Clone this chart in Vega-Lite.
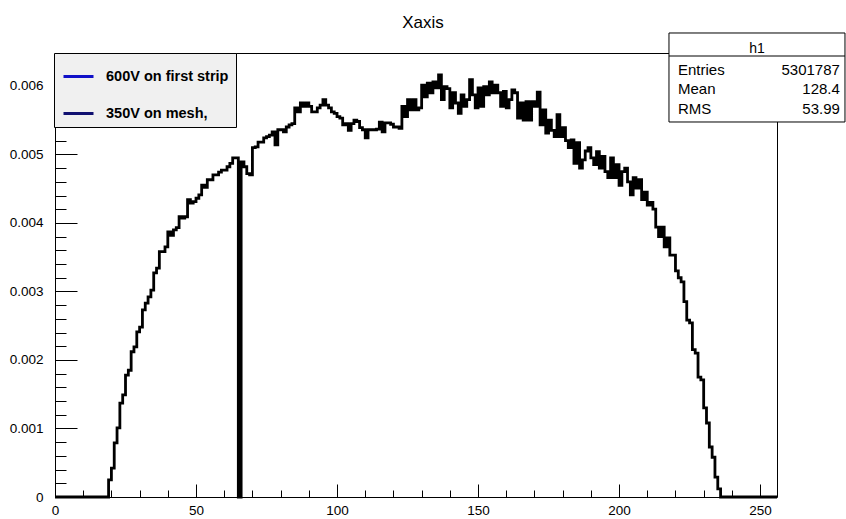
{
  "$schema": "https://vega.github.io/schema/vega-lite/v6.json",
  "width": 722,
  "height": 444,
  "autosize": "none",
  "padding": {"left": 55, "top": 53, "right": 69, "bottom": 22},
  "background": "white",
  "title": {"text": "Xaxis", "font": "Liberation Sans", "fontSize": 17, "fontWeight": "normal", "color": "black", "anchor": "middle", "offset": -12.5, "baseline": "alphabetic", "dx": 7},
  "config": {
    "font": "Liberation Sans",
    "view": {"stroke": "black", "strokeWidth": 1},
    "axis": {"domain": false, "grid": false, "labelFont": "Liberation Sans", "labelFontSize": 13.5, "labelColor": "black", "tickColor": "black", "tickWidth": 1, "title": null}
  },
  "datasets": {
    "hist": [
      {"x":0,"y":0},{"x":1,"y":0},{"x":2,"y":0},{"x":3,"y":0},{"x":4,"y":0},{"x":5,"y":0},{"x":6,"y":0},{"x":7,"y":0},{"x":8,"y":0},{"x":9,"y":0},
      {"x":10,"y":0},{"x":11,"y":0},{"x":12,"y":0},{"x":13,"y":0},{"x":14,"y":0},{"x":15,"y":0},{"x":16,"y":0},{"x":17,"y":0},{"x":18,"y":0},{"x":19,"y":0.00025},
      {"x":20,"y":0.00042},{"x":21,"y":0.00079},{"x":22,"y":0.00101},{"x":23,"y":0.00137},{"x":24,"y":0.00149},{"x":25,"y":0.00178},{"x":26,"y":0.00185},{"x":27,"y":0.00212},{"x":28,"y":0.00219},{"x":29,"y":0.00241},
      {"x":30,"y":0.00248},{"x":31,"y":0.00273},{"x":32,"y":0.00283},{"x":33,"y":0.00292},{"x":34,"y":0.00302},{"x":35,"y":0.00327},{"x":36,"y":0.00334},{"x":37,"y":0.00358},{"x":38,"y":0.00358},{"x":39,"y":0.00365},
      {"x":40,"y":0.00387},{"x":41,"y":0.00382},{"x":42,"y":0.0039},{"x":43,"y":0.00393},{"x":44,"y":0.00409},{"x":45,"y":0.00407},{"x":46,"y":0.00409},{"x":47,"y":0.00434},{"x":48,"y":0.00429},{"x":49,"y":0.00431},
      {"x":50,"y":0.00436},{"x":51,"y":0.00441},{"x":52,"y":0.00455},{"x":53,"y":0.00452},{"x":54,"y":0.00463},{"x":55,"y":0.00463},{"x":56,"y":0.0047},{"x":57,"y":0.0047},{"x":58,"y":0.00474},{"x":59,"y":0.00477},
      {"x":60,"y":0.00477},{"x":61,"y":0.00482},{"x":62,"y":0.00487},{"x":63,"y":0.00495},{"x":64,"y":0.00495},{"x":65,"y":0},{"x":66,"y":0.00489},{"x":67,"y":0.00482},{"x":68,"y":0.00472},{"x":69,"y":0.0047},
      {"x":70,"y":0.0051},{"x":71,"y":0.00511},{"x":72,"y":0.00518},{"x":73,"y":0.00518},{"x":74,"y":0.00524},{"x":75,"y":0.00526},{"x":76,"y":0.00528},{"x":77,"y":0.00533},{"x":78,"y":0.00514},{"x":79,"y":0.00536},
      {"x":80,"y":0.00536},{"x":81,"y":0.00533},{"x":82,"y":0.0054},{"x":83,"y":0.00543},{"x":84,"y":0.00545},{"x":85,"y":0.00568},{"x":86,"y":0.00562},{"x":87,"y":0.00575},{"x":88,"y":0.0057},{"x":89,"y":0.00575},
      {"x":90,"y":0.0057},{"x":91,"y":0.00562},{"x":92,"y":0.00562},{"x":93,"y":0.00568},{"x":94,"y":0.00572},{"x":95,"y":0.0058},{"x":96,"y":0.00572},{"x":97,"y":0.00568},{"x":98,"y":0.00562},{"x":99,"y":0.0056},
      {"x":100,"y":0.00555},{"x":101,"y":0.00553},{"x":102,"y":0.00543},{"x":103,"y":0.00545},{"x":104,"y":0.00535},{"x":105,"y":0.00545},{"x":106,"y":0.0055},{"x":107,"y":0.00548},{"x":108,"y":0.00539},{"x":109,"y":0.00536},
      {"x":110,"y":0.00524},{"x":111,"y":0.00536},{"x":112,"y":0.00536},{"x":113,"y":0.00536},{"x":114,"y":0.00537},{"x":115,"y":0.00547},{"x":116,"y":0.00533},{"x":117,"y":0.00546},{"x":118,"y":0.00546},{"x":119,"y":0.00544},
      {"x":120,"y":0.0054},{"x":121,"y":0.0054},{"x":122,"y":0.00538},{"x":123,"y":0.0057},{"x":124,"y":0.00555},{"x":125,"y":0.0058},{"x":126,"y":0.00565},{"x":127,"y":0.0058},{"x":128,"y":0.00565},{"x":129,"y":0.00568},
      {"x":130,"y":0.00601},{"x":131,"y":0.00584},{"x":132,"y":0.00604},{"x":133,"y":0.0059},{"x":134,"y":0.00606},{"x":135,"y":0.00597},{"x":136,"y":0.00616},{"x":137,"y":0.0058},{"x":138,"y":0.00599},{"x":139,"y":0.00596},
      {"x":140,"y":0.00568},{"x":141,"y":0.0059},{"x":142,"y":0.00575},{"x":143,"y":0.0056},{"x":144,"y":0.00587},{"x":145,"y":0.0057},{"x":146,"y":0.0058},{"x":147,"y":0.00609},{"x":148,"y":0.00587},{"x":149,"y":0.00568},
      {"x":150,"y":0.00597},{"x":151,"y":0.0057},{"x":152,"y":0.00599},{"x":153,"y":0.00587},{"x":154,"y":0.00606},{"x":155,"y":0.0059},{"x":156,"y":0.00601},{"x":157,"y":0.0059},{"x":158,"y":0.0057},{"x":159,"y":0.00592},
      {"x":160,"y":0.00568},{"x":161,"y":0.0058},{"x":162,"y":0.00594},{"x":163,"y":0.0059},{"x":164,"y":0.00553},{"x":165,"y":0.00575},{"x":166,"y":0.0055},{"x":167,"y":0.00577},{"x":168,"y":0.0055},{"x":169,"y":0.00577},
      {"x":170,"y":0.0057},{"x":171,"y":0.00591},{"x":172,"y":0.00543},{"x":173,"y":0.00565},{"x":174,"y":0.00531},{"x":175,"y":0.0055},{"x":176,"y":0.00535},{"x":177,"y":0.00526},{"x":178,"y":0.00558},{"x":179,"y":0.00526},
      {"x":180,"y":0.00539},{"x":181,"y":0.0052},{"x":182,"y":0.0051},{"x":183,"y":0.00521},{"x":184,"y":0.00487},{"x":185,"y":0.00517},{"x":186,"y":0.0048},{"x":187,"y":0.00492},{"x":188,"y":0.00505},{"x":189,"y":0.0051},
      {"x":190,"y":0.00495},{"x":191,"y":0.00485},{"x":192,"y":0.00504},{"x":193,"y":0.0048},{"x":194,"y":0.00497},{"x":195,"y":0.00475},{"x":196,"y":0.00466},{"x":197,"y":0.00495},{"x":198,"y":0.00466},{"x":199,"y":0.00485},
      {"x":200,"y":0.00455},{"x":201,"y":0.00475},{"x":202,"y":0.0048},{"x":203,"y":0.0046},{"x":204,"y":0.00441},{"x":205,"y":0.00466},{"x":206,"y":0.00451},{"x":207,"y":0.00463},{"x":208,"y":0.00434},{"x":209,"y":0.00445},
      {"x":210,"y":0.00426},{"x":211,"y":0.0043},{"x":212,"y":0.0042},{"x":213,"y":0.00394},{"x":214,"y":0.0038},{"x":215,"y":0.00394},{"x":216,"y":0.00365},{"x":217,"y":0.00378},{"x":218,"y":0.00353},{"x":219,"y":0.00353},
      {"x":220,"y":0.0033},{"x":221,"y":0.0032},{"x":222,"y":0.00314},{"x":223,"y":0.00285},{"x":224,"y":0.00258},{"x":225,"y":0.00254},{"x":226,"y":0.00215},{"x":227,"y":0.0021},{"x":228,"y":0.00175},{"x":229,"y":0.00171},
      {"x":230,"y":0.0013},{"x":231,"y":0.00108},{"x":232,"y":0.00073},{"x":233,"y":0.00058},{"x":234,"y":0.00029},{"x":235,"y":0.00012},{"x":236,"y":0},{"x":237,"y":0},{"x":238,"y":0},{"x":239,"y":0},
      {"x":240,"y":0},{"x":241,"y":0},{"x":242,"y":0},{"x":243,"y":0},{"x":244,"y":0},{"x":245,"y":0},{"x":246,"y":0},{"x":247,"y":0},{"x":248,"y":0},{"x":249,"y":0},
      {"x":250,"y":0},{"x":251,"y":0},{"x":252,"y":0},{"x":253,"y":0},{"x":254,"y":0},{"x":255,"y":0},{"x":256,"y":0}
    ],
    "legend": [{"label": "600V on first strip"}, {"label": "350V on mesh,"}],
    "stats": [{"title": "h1", "names": ["Entries", "Mean", "RMS"], "vals": ["5301787", "128.4", "53.99"]}]
  },
  "resolve": {"axis": {"x": "independent", "y": "independent"}},
  "layer": [
    {
      "data": {"name": "hist"},
      "mark": {"type": "line", "interpolate": "step-after", "color": "black", "strokeWidth": 2.8},
      "encoding": {
        "x": {"field": "x", "type": "quantitative", "scale": {"domain": [0, 256], "nice": false, "zero": false},
              "axis": {"orient": "bottom", "values": [0, 50, 100, 150, 200, 250], "tickSize": -13, "labelPadding": 19, "format": "d", "labelFlush": false, "labelOverlap": false}},
        "y": {"field": "y", "type": "quantitative", "scale": {"domain": [0, 0.00648], "nice": false, "zero": false},
              "axis": {"orient": "left", "values": [0, 0.001, 0.002, 0.003, 0.004, 0.005, 0.006], "tickSize": -22, "labelPadding": 34, "format": "~g", "labelFlush": false, "labelOverlap": false}}
      }
    },
    {
      "data": {"name": "legend"},
      "mark": {"type": "rule", "strokeWidth": 3},
      "encoding": {
        "x": {"datum": 0, "axis": {"orient": "bottom", "values": [10, 20, 30, 40, 60, 70, 80, 90, 110, 120, 130, 140, 160, 170, 180, 190, 210, 220, 230, 240], "tickSize": -7, "labels": false}},
        "x2": {"datum": 0},
        "y": {"datum": 0, "axis": {"orient": "left", "values": [0.0002, 0.0004, 0.0006, 0.0008, 0.0012, 0.0014, 0.0016, 0.0018, 0.0022, 0.0024, 0.0026, 0.0028, 0.0032, 0.0034, 0.0036, 0.0038, 0.0042, 0.0044, 0.0046, 0.0048, 0.0052, 0.0054, 0.0056, 0.0058, 0.0062, 0.0064], "tickSize": -11, "labels": false}},
        "color": {"field": "label", "type": "nominal",
                  "scale": {"domain": ["600V on first strip", "350V on mesh,"], "range": ["#1010c8", "#101070"]},
                  "legend": {"title": null, "orient": "none", "legendX": -1, "legendY": 0, "symbolType": "stroke", "symbolSize": 900, "symbolStrokeWidth": 3, "symbolOffset": 1,
                             "labelFont": "Liberation Sans", "labelFontSize": 14.5, "labelFontWeight": "bold", "labelColor": "black", "labelOffset": 11,
                             "fillColor": "#f0f0f0", "strokeColor": "black", "padding": 7, "rowPadding": 14}}
      }
    },
    {
      "data": {"name": "stats"},
      "mark": {"type": "rect", "fill": "white", "stroke": "black", "strokeWidth": 1},
      "encoding": {
        "x": {"datum": 217.7, "axis": null}, "x2": {"datum": 280.1},
        "y": {"datum": 0.006772, "axis": null}, "y2": {"datum": 0.005473}
      }
    },
    {
      "data": {"name": "stats"},
      "mark": {"type": "rule", "stroke": "black", "strokeWidth": 1},
      "encoding": {
        "x": {"datum": 217.7, "axis": null}, "x2": {"datum": 280.1},
        "y": {"datum": 0.006436, "axis": null}
      }
    },
    {
      "data": {"name": "stats"},
      "mark": {"type": "text", "font": "Liberation Sans", "fontSize": 14, "align": "center", "baseline": "alphabetic", "color": "black"},
      "encoding": {
        "x": {"datum": 248.9, "axis": null},
        "y": {"datum": 0.00648, "axis": null},
        "text": {"field": "title", "type": "nominal"}
      }
    },
    {
      "data": {"name": "stats"},
      "mark": {"type": "text", "font": "Liberation Sans", "fontSize": 15, "align": "left", "baseline": "alphabetic", "lineHeight": 19.5, "color": "black"},
      "encoding": {
        "x": {"datum": 220.9, "axis": null},
        "y": {"datum": 0.006159, "axis": null},
        "text": {"field": "names", "type": "nominal"}
      }
    },
    {
      "data": {"name": "stats"},
      "mark": {"type": "text", "font": "Liberation Sans", "fontSize": 15, "align": "right", "baseline": "alphabetic", "lineHeight": 19.5, "color": "black"},
      "encoding": {
        "x": {"datum": 278.3, "axis": null},
        "y": {"datum": 0.006159, "axis": null},
        "text": {"field": "vals", "type": "nominal"}
      }
    }
  ]
}
